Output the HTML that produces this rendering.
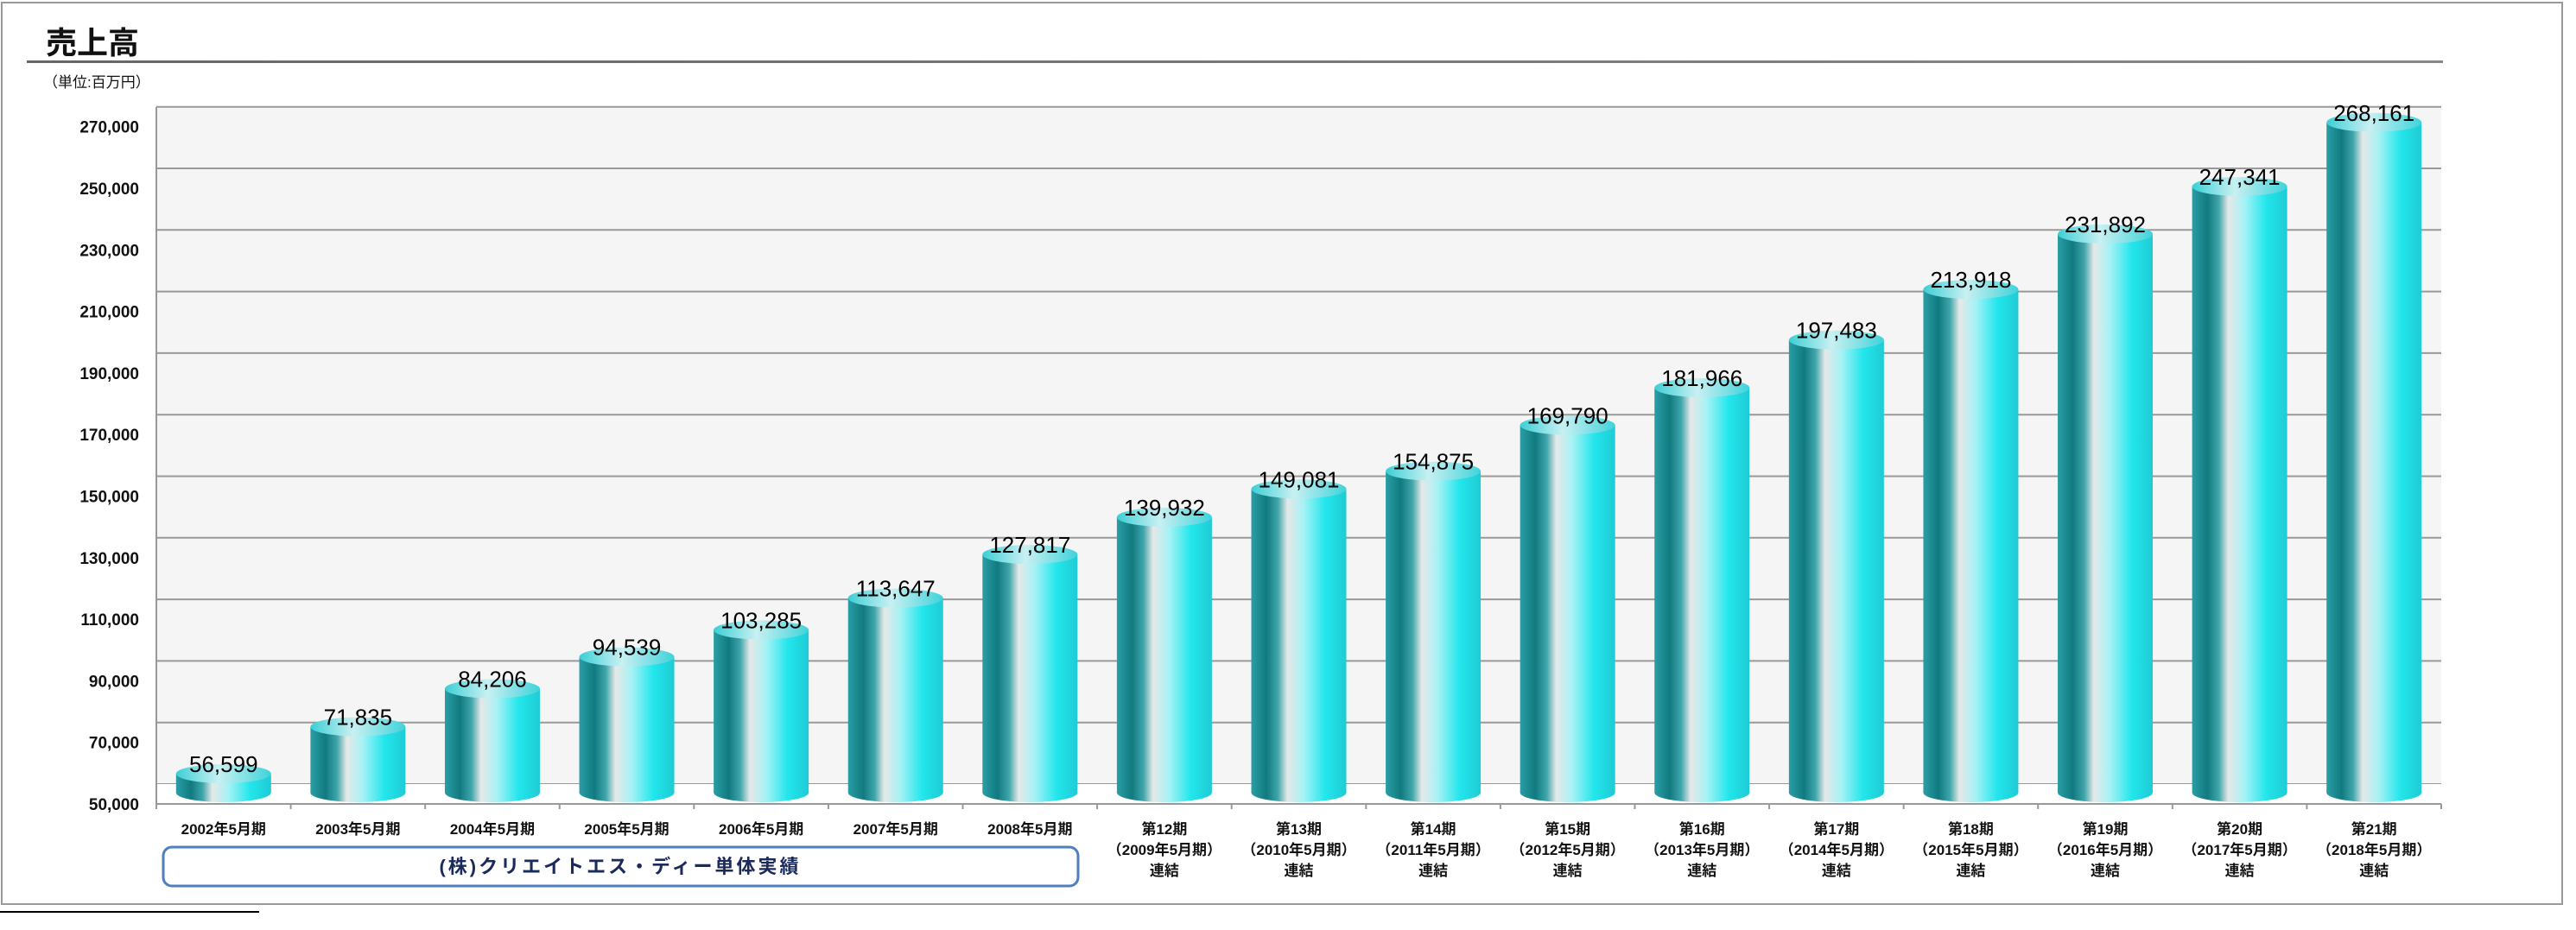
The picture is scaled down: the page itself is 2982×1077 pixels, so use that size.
<!DOCTYPE html>
<html><head><meta charset="utf-8"><style>
html,body{margin:0;padding:0;background:#fff;width:2982px;height:1077px;overflow:hidden}
svg{display:block}
text{font-family:"Liberation Sans","Noto Sans CJK JP",sans-serif}
</style></head><body>
<svg id="chart" width="2982" height="1077" viewBox="0 0 2982 1077" xmlns="http://www.w3.org/2000/svg">
<defs>
<linearGradient id="cyl" x1="0" x2="1" y1="0" y2="0">
<stop offset="0" stop-color="#2a9ea5"/><stop offset="0.16" stop-color="#117a80"/>
<stop offset="0.28" stop-color="#3fa6ab"/><stop offset="0.38" stop-color="#e6e8e8"/>
<stop offset="0.55" stop-color="#a6f2f5"/><stop offset="0.78" stop-color="#22e6ec"/>
<stop offset="1" stop-color="#1fcbd4"/></linearGradient>
<linearGradient id="cap" x1="0" x2="1" y1="0" y2="0">
<stop offset="0" stop-color="#3ccfd6"/><stop offset="0.45" stop-color="#c8f0f2"/>
<stop offset="1" stop-color="#3fd3da"/></linearGradient>
<linearGradient id="uline" x1="0" x2="1"><stop offset="0" stop-color="#666"/><stop offset="1" stop-color="#888"/></linearGradient>
</defs>
<rect x="2" y="3" width="2964" height="1044" fill="#fff" stroke="#999" stroke-width="2"/>
<line x1="0" y1="1056" x2="300" y2="1056" stroke="#000" stroke-width="2"/>
<text x="53" y="62" font-size="36" font-weight="bold" fill="#111">売上高</text>
<rect x="31" y="70" width="2797" height="3" fill="url(#uline)"/>
<text x="50" y="101" font-size="17" fill="#111">（単位:百万円）</text>
<rect x="181" y="124" width="2645" height="807" fill="#f5f5f5"/>
<g id="grid"></g>
<g id="bars"></g>
<g id="xlabels"></g>
<rect x="189" y="981" width="1059" height="45" rx="10" fill="#fff" stroke="#4f7fbf" stroke-width="3"/>
<text x="718" y="1011" font-size="22" font-weight="bold" fill="#1a2a5a" text-anchor="middle" letter-spacing="3">(株)クリエイトエス・ディー単体実績</text>
</svg>
<script>
const categories=["2002年5月期","2003年5月期","2004年5月期","2005年5月期","2006年5月期","2007年5月期","2008年5月期","第12期|（2009年5月期）|連結","第13期|（2010年5月期）|連結","第14期|（2011年5月期）|連結","第15期|（2012年5月期）|連結","第16期|（2013年5月期）|連結","第17期|（2014年5月期）|連結","第18期|（2015年5月期）|連結","第19期|（2016年5月期）|連結","第20期|（2017年5月期）|連結","第21期|（2018年5月期）|連結"];
const sales=[56599,71835,84206,94539,103285,113647,127817,139932,149081,154875,169790,181966,197483,213918,231892,247341,268161];
const yTicks=[50000,70000,90000,110000,130000,150000,170000,190000,210000,230000,250000,270000];
const NS="http://www.w3.org/2000/svg";
const X0=181,X1=2826,BASEV=50000,PX=71.3/20000;
const step=(X1-X0)/categories.length;
const xc=i=>X0+step*(i+0.5);
const yBack=v=>908-(v-BASEV)*PX, yFront=v=>931-(v-BASEV)*PX, yMid=v=>919.5-(v-BASEV)*PX;
function mk(tag,attrs,parent){const e=document.createElementNS(NS,tag);for(const k in attrs)e.setAttribute(k,attrs[k]);parent.appendChild(e);return e;}
const grid=document.getElementById('grid'),bars=document.getElementById('bars'),xl=document.getElementById('xlabels');
yTicks.forEach(v=>{
 const l=mk('line',{x1:X0,x2:X1,y1:yBack(v),y2:yBack(v),stroke:'#999','stroke-width':2},grid);
 
 
 const t=mk('text',{x:161,y:yFront(v)+7,'font-size':19,'font-weight':'bold','text-anchor':'end',fill:'#111'},grid);
 t.textContent=v.toLocaleString('en-US');
 
 
});
const fl=mk('rect',{x:X0,y:908,width:X1-X0,height:23,fill:'#fff'},grid);


const ax=mk('line',{x1:X0,x2:X1,y1:931,y2:931,stroke:'#999','stroke-width':2},grid);


const lw=mk('line',{x1:X0,x2:X0,y1:124,y2:937,stroke:'#999','stroke-width':2},grid);


for(let i=0;i<=categories.length;i++){
 const tk=mk('line',{x1:X0+step*i,x2:X0+step*i,y1:931,y2:937,stroke:'#999','stroke-width':2},grid);
 
 
}
const W=110,RY=11,BOT=918;
sales.forEach((v,i)=>{
 const cx=xc(i),top=yMid(v);
 const g=mk('g',{},bars);
 
 
 mk('path',{d:`M${cx-W/2},${top} L${cx-W/2},${BOT} A${W/2},${RY} 0 0 0 ${cx+W/2},${BOT} L${cx+W/2},${top} Z`,fill:'url(#cyl)'},g);
 mk('ellipse',{cx:cx,cy:top,rx:W/2,ry:RY,fill:'url(#cap)'},g);
 const t=mk('text',{x:cx,y:top-2,'font-size':26,'text-anchor':'middle',fill:'#000'},g);
 t.textContent=v.toLocaleString('en-US');
 
 
});
categories.forEach((c,i)=>{
 c.split('|').forEach((ln,j)=>{
  const t=mk('text',{x:xc(i),y:966+j*24,'font-size':17,'font-weight':'bold','text-anchor':'middle',fill:'#111'},xl);
  t.textContent=ln;
  
  
 });
});
</script>
</body></html>
